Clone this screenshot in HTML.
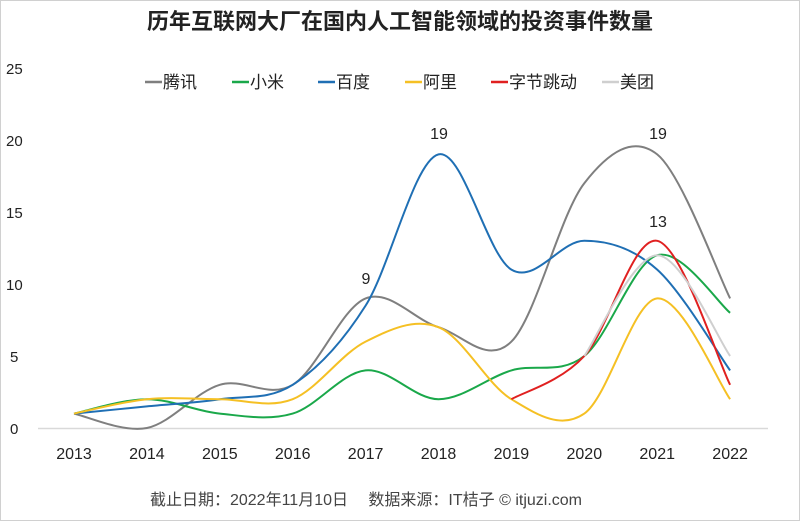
<!DOCTYPE html>
<html><head><meta charset="utf-8"><style>
body{margin:0;background:#fff;}
svg{display:block;font-family:"Liberation Sans","Noto Sans CJK SC",sans-serif;}
</style></head><body>
<svg id="s" width="800" height="521" viewBox="0 0 800 521">
<rect x="0.5" y="0.5" width="799" height="520" fill="#fff" stroke="#d0d0d0"/>
<text x="400" y="29" text-anchor="middle" font-size="22" font-weight="bold" fill="#222">历年互联网大厂在国内人工智能领域的投资事件数量</text>
<line x1="38" y1="428.5" x2="768" y2="428.5" stroke="#d9d9d9" stroke-width="1.5"/>
<g font-size="15" fill="#222">
<text x="6" y="74">25</text><text x="6" y="146">20</text><text x="6" y="218">15</text><text x="6" y="290">10</text><text x="10" y="362">5</text><text x="10" y="434">0</text>
</g>
<g font-size="16" fill="#222" text-anchor="middle" id="xl"></g>
<g font-size="17" fill="#222">
<line x1="145" y1="82" x2="162" y2="82" stroke="#7f7f7f" stroke-width="2.5"/><text x="163" y="88">腾讯</text>
<line x1="232" y1="82" x2="249" y2="82" stroke="#1aa84a" stroke-width="2.5"/><text x="250" y="88">小米</text>
<line x1="318" y1="82" x2="335" y2="82" stroke="#1f6fb4" stroke-width="2.5"/><text x="336" y="88">百度</text>
<line x1="405" y1="82" x2="422" y2="82" stroke="#f5c024" stroke-width="2.5"/><text x="423" y="88">阿里</text>
<line x1="491" y1="82" x2="508" y2="82" stroke="#e02020" stroke-width="2.5"/><text x="509" y="88">字节跳动</text>
<line x1="602" y1="82" x2="619" y2="82" stroke="#cfcfcf" stroke-width="2.5"/><text x="620" y="88">美团</text>
</g>
<g id="lines" fill="none" stroke-width="2"></g>
<g font-size="16" fill="#222" text-anchor="middle">
<text x="366" y="284">9</text><text x="439" y="139">19</text><text x="658" y="139">19</text><text x="658" y="227">13</text>
</g>
<text x="366" y="505" text-anchor="middle" font-size="16" fill="#444">截止日期：2022年11月10日　 数据来源：IT桔子 © itjuzi.com</text>
</svg>
<script>
var X=i=>74+i*72.9,Y=v=>428-v*14.4,ns="http://www.w3.org/2000/svg";
var xl=document.getElementById('xl');
for(var i=0;i<10;i++){var t=document.createElementNS(ns,'text');t.setAttribute('x',X(i));t.setAttribute('y',459);t.textContent=2013+i;xl.appendChild(t);}
var S=[
["#7f7f7f",0,[1,0,3,3,9,7,6,17,19,9]],
["#1aa84a",0,[1,2,1,1,4,2,4,5,12,8]],
["#1f6fb4",0,[1,1.5,2,3,8.5,19,11,13,11,4]],
["#f5c024",0,[1,2,2,2,6,7,2,1,9,2]],
["#e02020",6,[2,5,13,3]],
["#cfcfcf",7,[5,12,5]]];
var g=document.getElementById('lines');
S.forEach(function(s){
 var p=s[2].map((v,k)=>[X(s[1]+k),Y(v)]),d="M"+p[0][0]+","+p[0][1];
 for(var k=0;k<p.length-1;k++){
  var p0=p[k-1]||p[k],p1=p[k],p2=p[k+1],p3=p[k+2]||p2;
  var c1=[p1[0]+(p2[0]-p0[0])/6,p1[1]+(p2[1]-p0[1])/6],c2=[p2[0]-(p3[0]-p1[0])/6,p2[1]-(p3[1]-p1[1])/6];
  d+=" C"+c1+" "+c2+" "+p2;
 }
 var e=document.createElementNS(ns,'path');e.setAttribute('d',d);e.setAttribute('stroke',s[0]);g.appendChild(e);
});
var ft=document.querySelector('text[font-size="16"][fill="#444"]');ft.setAttribute('x',366);
</script>
</body></html>
